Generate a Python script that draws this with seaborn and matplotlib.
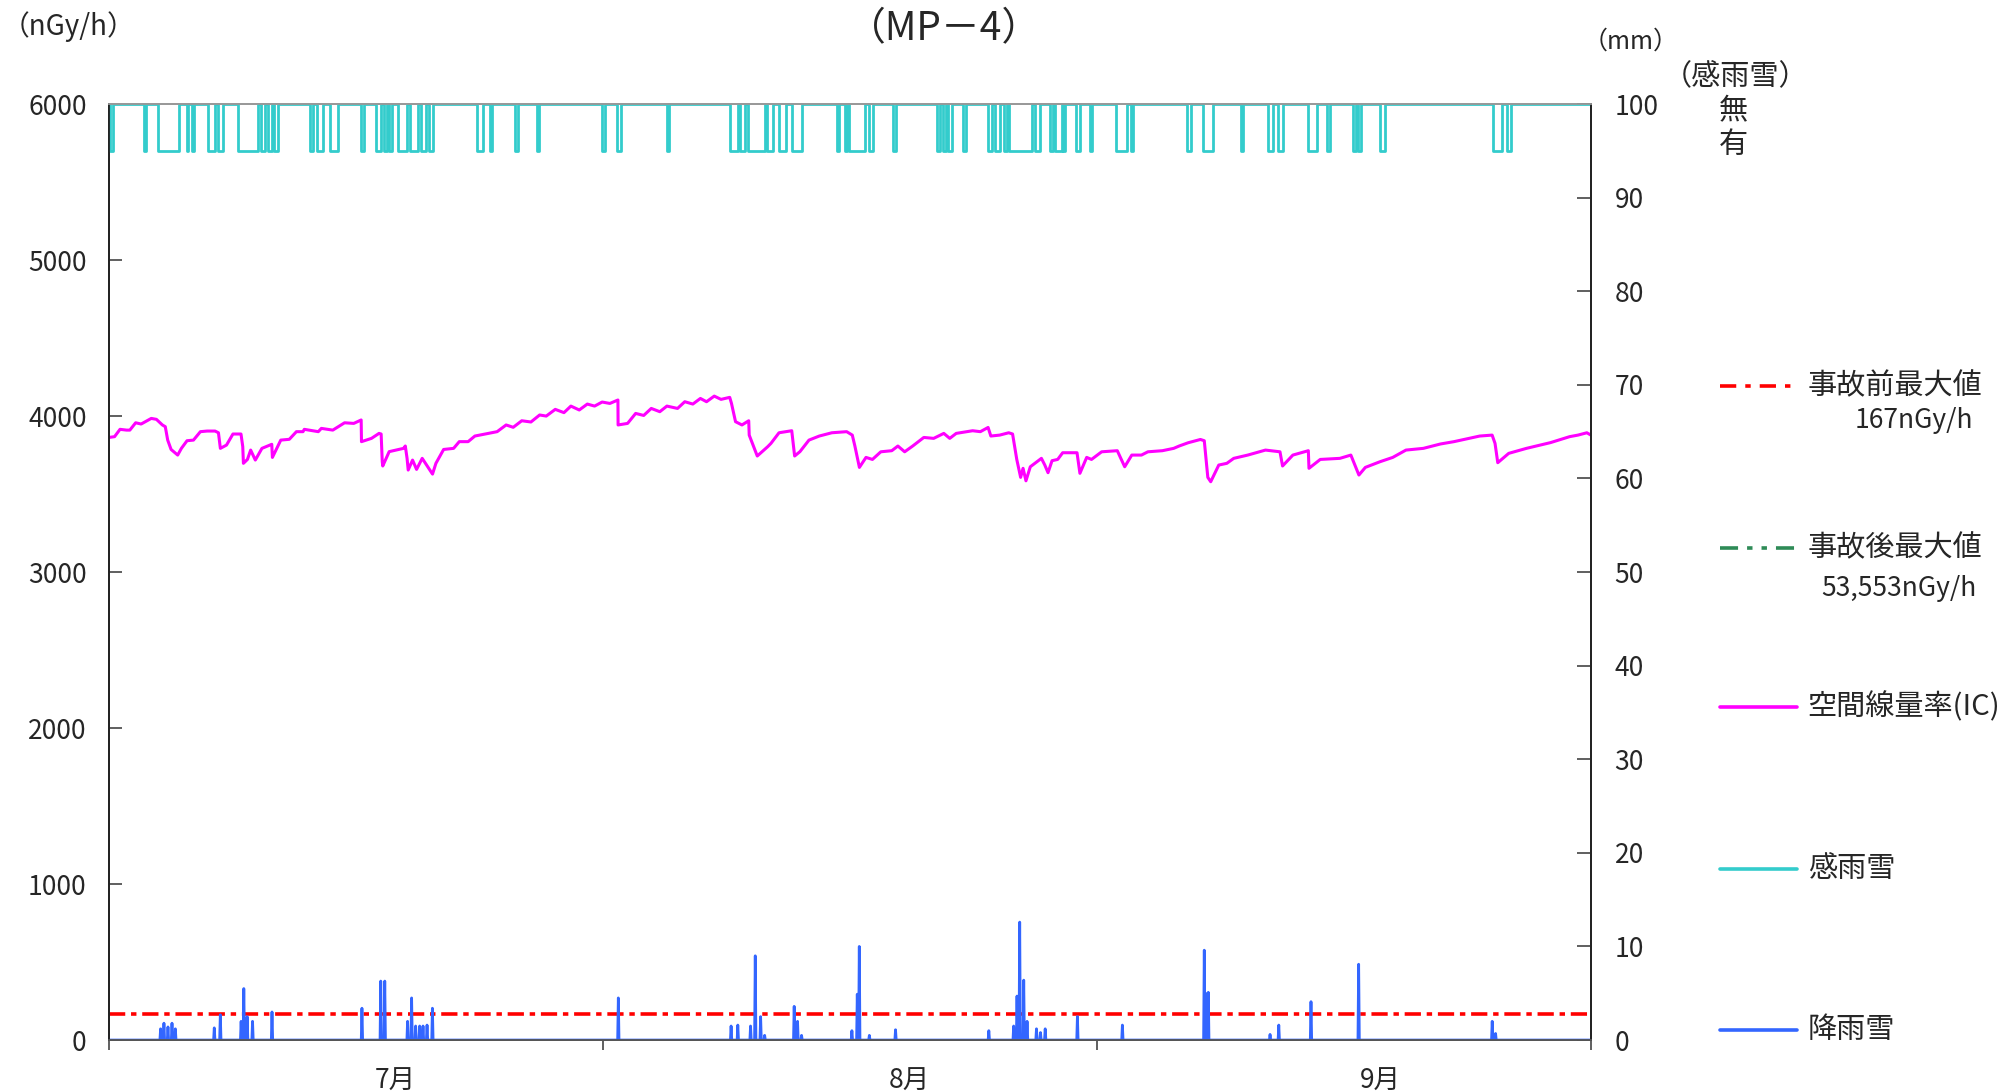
import numpy as np
import pandas as pd
import matplotlib
matplotlib.use("Agg")
import matplotlib.pyplot as plt
from matplotlib.lines import Line2D
import seaborn as sns

# 空間線量率(IC): day from 7/1, nGy/h
dose_day = [0.00, 0.35, 0.69, 1.10, 1.30, 1.66, 2.00, 2.63, 2.95, 3.32, 3.50, 3.65, 3.86, 4.27,
            4.50, 4.85, 5.25, 5.68, 6.10, 6.59, 6.80, 6.92, 7.30, 7.70, 8.20, 8.31, 8.35, 8.60,
            8.80, 9.09, 9.50, 10.11, 10.15, 10.67, 11.20, 11.64, 12.05, 12.13, 13.00, 13.19,
            13.90, 14.63, 15.20, 15.66, 15.68, 16.30, 16.77, 16.90, 16.97, 17.00, 17.40, 18.29,
            18.40, 18.51, 18.58, 18.85, 19.10, 19.45, 20.09, 20.30, 20.78, 21.40, 21.75, 22.30,
            22.72, 24.10, 24.66, 25.10, 25.63, 26.20, 26.74, 27.15, 27.71, 28.25, 28.68, 29.20,
            29.70, 30.15, 30.62, 31.10, 31.60, 31.61, 32.20, 32.70, 33.20, 33.67, 34.20, 34.64,
            35.30, 35.75, 36.25, 36.72, 37.10, 37.58, 38.00, 38.54, 38.65, 38.90, 39.30, 39.72,
            39.75, 40.25, 40.55, 40.90, 41.10, 41.60, 42.39, 42.57, 42.90, 43.46, 44.10, 44.88,
            45.80, 46.15, 46.31, 46.59, 47.00, 47.40, 47.92, 48.60, 48.98, 49.40, 49.90, 50.59,
            51.20, 51.83, 52.20, 52.60, 53.62, 54.10, 54.58, 54.75, 55.30, 55.86, 56.10, 56.36,
            56.60, 56.75, 56.93, 57.20, 57.89, 58.10, 58.30, 58.55, 58.90, 59.21, 60.10, 60.28,
            60.70, 61.00, 61.63, 62.60, 63.06, 63.50, 64.10, 64.50, 65.40, 66.10, 66.44, 67.00,
            67.76, 68.00, 68.22, 68.40, 68.90, 69.40, 69.83, 70.70, 71.43, 71.80, 72.70, 72.86,
            73.50, 74.46, 74.50, 75.20, 76.42, 77.10, 77.60, 78.00, 78.90, 79.70, 80.52, 81.60,
            82.66, 83.50, 84.44, 85.10, 85.87, 86.05, 86.22, 86.90, 88.00, 89.50, 90.68, 91.20,
            91.75, 92.00]
dose_val = [3863, 3868, 3915, 3910, 3910, 3957, 3949, 3985, 3979, 3943, 3932, 3846, 3786, 3750,
            3793, 3842, 3846, 3900, 3904, 3904, 3893, 3793, 3814, 3885, 3885, 3804, 3697, 3722,
            3782, 3718, 3793, 3819, 3735, 3846, 3851, 3900, 3900, 3915, 3900, 3921,
            3910, 3957, 3953, 3975, 3836, 3857, 3889, 3885, 3707, 3680, 3772, 3793,
            3808, 3729, 3654, 3718, 3658, 3729, 3628, 3697, 3786, 3793, 3836, 3836,
            3872, 3900, 3943, 3928, 3970, 3962, 4007, 4000, 4043, 4022, 4064, 4039,
            4077, 4064, 4090, 4081, 4103, 3943, 3953, 4017, 4004, 4049, 4028, 4064,
            4049, 4092, 4077, 4113, 4092, 4128, 4107, 4120, 4081, 3964, 3943, 3970,
            3878, 3744, 3772, 3804, 3825, 3893, 3906, 3744, 3772, 3846, 3872, 3893,
            3900, 3878, 3808, 3671, 3735, 3722, 3771, 3778, 3808, 3771, 3808, 3863,
            3857, 3889, 3857, 3889, 3906, 3900, 3927, 3872, 3878, 3893, 3885, 3722,
            3607, 3665, 3585, 3675, 3729, 3686, 3637, 3714, 3722, 3765, 3765, 3633,
            3735, 3722, 3771, 3778, 3675, 3750, 3750, 3771, 3778, 3793, 3808, 3829,
            3850, 3842, 3607, 3579, 3686, 3697, 3729, 3750, 3771, 3782, 3771, 3680,
            3750, 3778, 3665, 3722, 3729, 3750, 3622, 3671, 3707, 3735, 3782, 3793,
            3821, 3836, 3857, 3872, 3878, 3825, 3701, 3761, 3793, 3830, 3868, 3878,
            3893, 3878]

# 降雨雪: day, mm (hourly)
rain_day = [3.19, 3.42, 3.66, 3.90, 4.14, 6.53, 6.93, 8.20, 8.36, 8.60, 8.92, 10.12, 15.69,
            16.89, 17.12, 18.56, 18.80, 19.04, 19.28, 19.51, 19.75, 20.07, 31.62, 38.63, 39.03,
            39.83, 40.14, 40.46, 40.70, 42.53, 42.77, 43.00, 46.12, 46.44, 46.59, 47.20, 48.82,
            54.64, 56.15, 56.39, 56.55, 56.79, 57.00, 57.59, 57.82, 58.14, 60.14, 62.92, 68.02,
            68.10, 68.26, 72.08, 72.64, 74.63, 77.58, 85.86, 86.10]
rain_mm = [1.2, 1.8, 1.4, 1.8, 1.2, 1.3, 2.7, 2.0, 5.5, 2.5, 2.0, 3.0, 3.4,
           6.3, 6.3, 2.0, 4.5, 1.5, 1.5, 1.5, 1.6, 3.4, 4.5, 1.5, 1.6,
           1.5, 9.0, 2.5, 0.5, 3.6, 2.0, 0.5, 1.0, 4.9, 10.0, 0.5, 1.1,
           1.0, 1.5, 4.7, 12.6, 6.4, 2.0, 1.2, 0.8, 1.2, 2.5, 1.6, 9.6,
           5.0, 5.1, 0.6, 1.6, 4.1, 8.1, 2.0, 0.7]

# 感雨雪 有 (wet) periods: start / end day
wet_start = [0.05, 2.17, 3.04, 4.84, 5.15, 6.15, 6.77, 8.01, 9.44, 9.90, 10.25, 12.48, 12.90,
             13.72, 15.64, 16.57, 17.10, 17.40, 17.94, 18.70, 19.40, 19.90, 22.84, 23.65, 25.20,
             26.57, 30.60, 31.54, 34.64, 38.55, 39.17, 39.67, 40.85, 41.59, 42.40, 45.19, 45.69,
             45.95, 47.18, 48.67, 51.40, 51.77, 52.10, 53.01, 54.57, 55.00, 55.56, 55.87, 57.50,
             58.42, 58.73, 59.22, 60.03, 60.90, 62.51, 63.44, 66.92, 67.91, 70.27, 71.95, 72.57,
             74.43, 75.61, 77.22, 77.54, 78.90, 85.92, 86.78]
wet_end = [0.25, 2.30, 4.35, 4.90, 5.28, 6.58, 7.08, 9.25, 9.70, 10.10, 10.49, 12.70, 13.28,
           14.22, 15.83, 16.90, 17.25, 17.57, 18.50, 19.20, 19.70, 20.11, 23.22, 23.78, 25.39,
           26.69, 30.79, 31.78, 34.76, 39.05, 39.48, 40.72, 41.22, 42.03, 43.02, 45.32, 45.85,
           46.93, 47.43, 48.86, 51.59, 51.95, 52.33, 53.20, 54.81, 55.31, 55.75, 57.30, 57.79,
           58.60, 59.16, 59.35, 60.28, 61.02, 63.20, 63.57, 67.17, 68.53, 70.40, 72.26, 72.88,
           74.99, 75.80, 77.41, 77.72, 79.21, 86.47, 87.03]

pre_max = 167
n_days = 92
month_labels = ["7月", "8月", "9月"]

sns.set_theme(style="white")
plt.rcParams['font.family'] = ['Noto Sans CJK JP', 'DejaVu Sans']
plt.rcParams['axes.unicode_minus'] = False

fig = plt.figure(figsize=(20.13, 10.91), dpi=100)
ax = fig.add_axes([0.0541, 0.0467, 0.7362, 0.8579])
ax2 = ax.twinx()

# dose rate
sns.lineplot(x=dose_day, y=dose_val, ax=ax, color="#FF00FF", linewidth=2.2,
             estimator=None, sort=False)
ax.axhline(pre_max, color="#FF0000", linewidth=2.6, linestyle=(0, (4.5, 1.6, 1.5, 1.6)))

# hourly rainfall
hours = np.arange(n_days * 24 + 1)
rain = np.zeros(len(hours))
for d, v in zip(rain_day, rain_mm):
    rain[int(round(d * 24))] = v
sns.lineplot(x=hours / 24.0, y=rain, ax=ax2, color="#3366FF", linewidth=2.0,
             estimator=None, sort=False)

# rain sensor step line
wx, wy = [0.0], [100]
for s, e in zip(wet_start, wet_end):
    wx += [s, s, e, e]
    wy += [100, 95, 95, 100]
wx.append(n_days)
wy.append(100)
sns.lineplot(x=wx, y=wy, ax=ax2, color="#33CCCC", linewidth=2.0,
             estimator=None, sort=False)

ax.set_xlim(0, n_days)
ax.set_ylim(0, 6000)
ax2.set_ylim(0, 100)
for a in (ax, ax2):
    a.set_xlabel("")
    a.set_ylabel("")

ax.set_yticks(range(0, 6001, 1000))
ax.tick_params(axis='y', direction='in', length=9, width=1.2, pad=16, labelsize=19,
               left=True, color="#444444")
ax2.set_yticks(range(0, 101, 10))
ax2.tick_params(axis='y', direction='in', length=10, width=1.2, pad=17, labelsize=19,
                right=True, color="#444444")

ax.set_xticks([17.8, 49.7, 78.9])
ax.set_xticklabels(month_labels)
ax.set_xticks([0, n_days / 3, 2 * n_days / 3, n_days], minor=True)
ax.tick_params(axis='x', which='major', length=0, pad=20, labelsize=19)
ax.tick_params(axis='x', which='minor', direction='out', length=7, width=1.2,
               bottom=True, color="#444444")

for a in (ax, ax2):
    a.spines['top'].set_color("#999999")
    a.spines['bottom'].set_color("#555555")
    a.spines['left'].set_color("#222222")
    a.spines['right'].set_color("#222222")
    for sp in a.spines.values():
        sp.set_linewidth(1.3)

# texts
fig.text(0.001, 0.976, "（nGy/h）", fontsize=20, ha='left', va='center')
fig.text(0.469, 0.973, "（MP－4）", fontsize=28, ha='center', va='center')
fig.text(0.81, 0.9615, "（mm）", fontsize=18, ha='center', va='center')
fig.text(0.862, 0.929, "（感雨雪）", fontsize=21, ha='center', va='center')
fig.text(0.861, 0.898, "無", fontsize=21, ha='center', va='center')
fig.text(0.861, 0.867, "有", fontsize=21, ha='center', va='center')

# legend
legend_rows = [
    ("事故前最大値", "#FF0000", (0, (4.5, 2.5, 1.5, 2.5)), 0.6462),
    ("事故後最大値", "#2E8B57", (0, (5, 2.5, 1.5, 2.5, 1.5, 2.5)), 0.4977),
    ("空間線量率(IC)", "#FF00FF", "-", 0.352),
    ("感雨雪", "#33CCCC", "-", 0.2035),
    ("降雨雪", "#3366FF", "-", 0.0559),
]
for label, color, ls, y in legend_rows:
    fig.add_artist(Line2D([0.8545, 0.8927], [y, y], transform=fig.transFigure,
                          color=color, linestyle=ls, linewidth=2.6))
    fig.text(0.898, y, label, fontsize=21, ha='left', va='center')
fig.text(0.980, 0.615, "167nGy/h", fontsize=19, ha='right', va='center')
fig.text(0.982, 0.461, "53,553nGy/h", fontsize=19, ha='right', va='center')

fig.savefig("out.png", dpi=100)
